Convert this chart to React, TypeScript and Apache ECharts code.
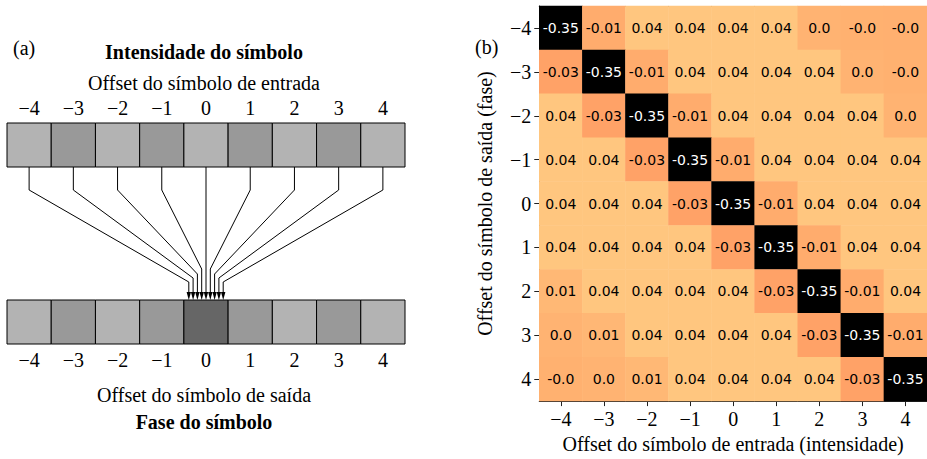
import React, { useEffect, useRef } from "react";
import * as echarts from "echarts";

// ---------- data ----------
const offsetLabels = ["−4", "−3", "−2", "−1", "0", "1", "2", "3", "4"];
// left diagram: shade level per symbol (1 light, 2 medium, 3 dark)
const inputLevels = [1, 2, 1, 2, 1, 2, 1, 2, 1];
const outputLevels = [1, 2, 1, 2, 3, 2, 1, 2, 1];
// heatmap rows: output offset (phase) -4..4, columns: input offset (intensity) -4..4
const rowM4 = [-0.352, -0.012, 0.041, 0.041, 0.041, 0.041, 0.003, -0.002, -0.003];
const rowM3 = [-0.031, -0.352, -0.012, 0.041, 0.041, 0.041, 0.041, 0.002, -0.002];
const rowM2 = [0.041, -0.031, -0.352, -0.012, 0.041, 0.041, 0.041, 0.041, 0.003];
const rowM1 = [0.041, 0.041, -0.031, -0.352, -0.012, 0.041, 0.041, 0.041, 0.041];
const row0 = [0.041, 0.041, 0.041, -0.031, -0.352, -0.012, 0.041, 0.041, 0.041];
const rowP1 = [0.041, 0.041, 0.041, 0.041, -0.031, -0.352, -0.012, 0.041, 0.041];
const rowP2 = [0.012, 0.041, 0.041, 0.041, 0.041, -0.031, -0.352, -0.012, 0.041];
const rowP3 = [0.003, 0.011, 0.041, 0.041, 0.041, 0.041, -0.031, -0.352, -0.012];
const rowP4 = [-0.002, 0.003, 0.012, 0.041, 0.041, 0.041, 0.041, -0.031, -0.352];
const heatRows = [rowM4, rowM3, rowM2, rowM1, row0, rowP1, rowP2, rowP3, rowP4];

const SERIF = "'Liberation Serif', 'Times New Roman', serif";
const shadePalette = ["#b3b3b3", "#999999", "#666666"];
const copper = ["#000000", "#402819", "#805033", "#bf784c", "#ff9f65", "#ffc77f"];

function fmt(v: number): string {
  const r = Math.round(Math.abs(v) * 100) / 100;
  const s = r === 0 ? "0.0" : String(r);
  return (v < 0 ? "-" : "") + s;
}

export default function App() {
  const ref = useRef<HTMLDivElement>(null);
  useEffect(() => {
    if (!ref.current) return;
    const chart = echarts.init(ref.current, undefined, { renderer: "svg" });

    const heatData: any[] = [];
    heatRows.forEach((row, yi) =>
      row.forEach((v, xi) => {
        heatData.push({
          value: [xi, yi, v],
          label: { color: v < -0.2 ? "#ffffff" : "#000000" },
        });
      })
    );

    const boxData: any[] = [];
    inputLevels.forEach((lv, i) => boxData.push([i, 0, lv]));
    outputLevels.forEach((lv, i) => boxData.push([i, 1, lv]));

    const arrowData = offsetLabels.map((_, i) => [i]);

    // diagram layout in y units (1 unit = 1 px)
    const BOX_H = 44;
    const BOT_Y = 177;
    const KNEE_Y = 67;
    const bendByDist = [0, 146, 151, 155, 159];

    const textStyle = (t: string, x: number, y: number, bold = false, align = "center") => ({
      type: "text",
      x,
      y,
      style: {
        text: t,
        fontFamily: SERIF,
        fontSize: 20,
        fontWeight: bold ? "bold" : "normal",
        fill: "#000",
        align,
        textAlign: align,
        verticalAlign: "middle",
        textVerticalAlign: "middle",
      },
    });

    const catAxisLabel = { fontFamily: SERIF, fontSize: 20, color: "#000" };

    chart.setOption({
      animation: false,
      grid: [
        { left: 539.25, top: 6, width: 391.5, height: 398 },
        { left: 7, top: 123, width: 398, height: 221 },
      ],
      xAxis: [
        {
          type: "category",
          gridIndex: 0,
          data: offsetLabels,
          position: "bottom",
          axisLine: { show: true, lineStyle: { color: "#222", width: 1 } },
          axisTick: { show: true, alignWithLabel: true, length: 5, lineStyle: { color: "#222" } },
          axisLabel: { ...catAxisLabel, margin: 8 },
          splitLine: { show: false },
          name: "Offset do símbolo de entrada (intensidade)",
          nameLocation: "middle",
          nameGap: 30,
          nameTextStyle: { fontFamily: SERIF, fontSize: 20, color: "#000" },
        },
        {
          type: "category",
          gridIndex: 1,
          data: offsetLabels,
          position: "top",
          axisLine: { show: false },
          axisTick: { show: false },
          axisLabel: { ...catAxisLabel, margin: 5 },
        },
        {
          type: "category",
          gridIndex: 1,
          data: offsetLabels,
          position: "bottom",
          axisLine: { show: false },
          axisTick: { show: false },
          axisLabel: { ...catAxisLabel, margin: 6 },
        },
        {
          type: "category",
          gridIndex: 0,
          data: offsetLabels,
          position: "top",
          axisLine: { show: true, lineStyle: { color: "#222", width: 1 } },
          axisTick: { show: false },
          axisLabel: { show: false },
        },
      ],
      yAxis: [
        {
          type: "category",
          gridIndex: 0,
          data: offsetLabels,
          inverse: true,
          axisLine: { show: true, lineStyle: { color: "#222", width: 1 } },
          axisTick: { show: true, alignWithLabel: true, length: 5, lineStyle: { color: "#222" } },
          axisLabel: { ...catAxisLabel, margin: 8 },
          splitLine: { show: false },
          name: "Offset do símbolo de saída (fase)",
          nameLocation: "middle",
          nameGap: 44,
          nameTextStyle: { fontFamily: SERIF, fontSize: 20, color: "#000" },
        },
        {
          type: "value",
          gridIndex: 1,
          min: 0,
          max: 221,
          inverse: true,
          show: false,
        },
      ],
      visualMap: {
        show: false,
        type: "continuous",
        seriesIndex: 0,
        dimension: 2,
        min: -0.352,
        max: 0.042,
        inRange: { color: copper },
      },
      series: [
        {
          type: "heatmap",
          xAxisIndex: 0,
          yAxisIndex: 0,
          data: heatData,
          label: {
            show: true,
            fontFamily: "'DejaVu Sans', sans-serif",
            fontSize: 14,
            formatter: (p: any) => fmt(p.value[2]),
          },
          emphasis: { disabled: true },
        },
        {
          type: "custom",
          xAxisIndex: 1,
          yAxisIndex: 1,
          data: boxData,
          silent: true,
          renderItem: (params: any, api: any) => {
            const xi = api.value(0);
            const row = api.value(1);
            const lv = api.value(2);
            const y0 = row === 0 ? 0 : BOT_Y;
            const p0 = api.coord([xi, y0]);
            const p1 = api.coord([xi, y0 + BOX_H]);
            const w = api.size([1, 0])[0];
            return {
              type: "rect",
              shape: { x: p0[0] - w / 2, y: p0[1], width: w, height: p1[1] - p0[1] },
              style: { fill: shadePalette[lv - 1], stroke: "#000", lineWidth: 1 },
            };
          },
        },
        {
          type: "custom",
          xAxisIndex: 1,
          yAxisIndex: 1,
          data: arrowData,
          silent: true,
          renderItem: (params: any, api: any) => {
            const xi = api.value(0);
            const d = xi - 4;
            const src = api.coord([xi, BOX_H]);
            const knee = api.coord([xi, KNEE_Y]);
            const centerX = api.coord([4, 0])[0];
            const endX = centerX + d * 4.3;
            const bend = api.coord([4, bendByDist[Math.abs(d)] || KNEE_Y])[1];
            const tip = api.coord([4, BOT_Y])[1];
            const headH = 8;
            const pts =
              d === 0
                ? [src, [endX, tip - headH]]
                : [src, knee, [endX, bend], [endX, tip - headH]];
            return {
              type: "group",
              children: [
                {
                  type: "polyline",
                  shape: { points: pts },
                  style: { stroke: "#000", lineWidth: 1, fill: null },
                },
                {
                  type: "polygon",
                  shape: {
                    points: [
                      [endX - 2.2, tip - headH],
                      [endX + 2.2, tip - headH],
                      [endX, tip],
                    ],
                  },
                  style: { fill: "#000" },
                },
              ],
            };
          },
        },
      ],
      graphic: [
        textStyle("(a)", 13, 48, false, "left"),
        textStyle("Intensidade do símbolo", 204, 52, true),
        textStyle("Offset do símbolo de entrada", 204, 83),
        textStyle("Offset do símbolo de saída", 204, 395),
        textStyle("Fase do símbolo", 204, 422, true),
        textStyle("(b)", 475, 47, false, "left"),
      ],
    });

    return () => chart.dispose();
  }, []);

  return (
    <div
      ref={ref}
      style={{ position: "fixed", left: 0, top: 0, width: 927, height: 459, background: "#fff" }}
    />
  );
}
